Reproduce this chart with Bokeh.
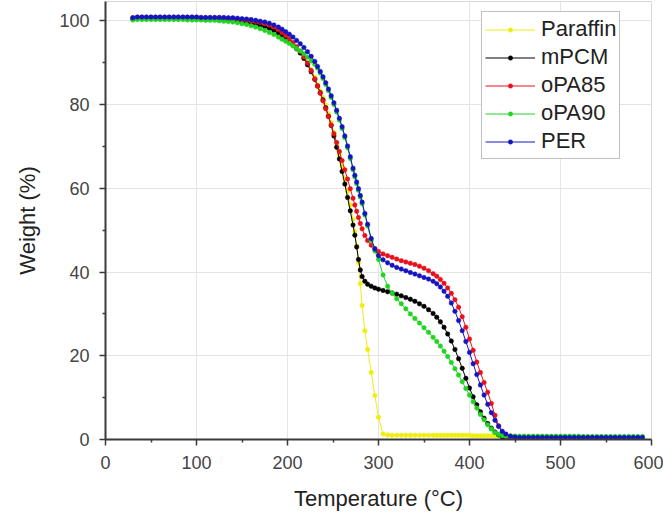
from bokeh.plotting import figure
from bokeh.models import Range1d, FixedTicker, Legend, LegendItem
from bokeh.embed import file_html
from bokeh.resources import INLINE

# ---------------- data ----------------
TEMP = [30, 35, 40, 45, 50, 55, 60, 65, 70, 75, 80, 85, 90, 95, 100, 105, 110, 115, 120, 125, 130, 135, 140, 145, 150, 155, 160, 165, 170, 175, 180,
        185, 190,
        194, 198, 202, 206, 210, 214, 218, 222, 226, 230,
        233, 236, 239, 242, 245, 248, 251, 254, 257, 260, 263, 266, 269, 272,
        274, 276, 278, 280, 282,
        285, 288,
        292, 296, 300,
        305, 310, 315, 320, 325, 330, 335, 340, 345, 350, 355, 360,
        364, 368, 372, 376, 380, 384, 388, 392, 396, 400, 404, 408, 412, 416, 420, 424, 428, 432, 436, 440,
        445, 450]

TEMP_TAIL = [455, 460, 465, 470, 475, 480, 485, 490, 495, 500, 505, 510, 515, 520, 525, 530, 535, 540, 545, 550,
             555, 560, 565, 570, 575, 580, 585, 590]

W_PARAFFIN = [100.4, 100.5, 100.5, 100.5, 100.5, 100.5, 100.5, 100.5, 100.5, 100.5, 100.5, 100.5, 100.4, 100.4, 100.4, 100.4, 100.3, 100.3, 100.3, 100.2, 100.2, 100.1, 100.0, 99.9, 99.8, 99.6, 99.4, 99.2, 98.9, 98.6, 98.3,
              97.8, 97.3,
              96.6, 95.9, 95.2, 94.4, 93.6, 92.6, 91.3, 89.9, 88.3, 86.5,
              84.8, 83.2, 81.6, 79.8, 77.8, 75.7, 73.3, 70.8, 68.0, 65.2, 62.3, 59.3, 56.0, 52.5,
              49.6, 46.2, 42.2, 37.2, 32.0,
              26.0, 21.5,
              16.0, 10.5, 5.3,
              1.3, 1.1, 1.0, 1.0, 1.0, 1.0, 1.0, 1.0, 1.0, 1.0, 1.0, 1.0,
              1.0, 1.0, 1.0, 1.0, 1.0, 1.0, 1.0, 1.0, 1.0, 1.0, 0.9, 0.9, 0.9, 0.9, 0.9, 0.9, 0.9, 0.9, 0.9, 0.9,
              0.9, 0.8]
W_PARAFFIN_TAIL = [0.7, 0.7, 0.7, 0.7, 0.7, 0.7, 0.7, 0.7, 0.7, 0.7, 0.6, 0.6, 0.6, 0.6, 0.6, 0.6, 0.6, 0.6, 0.6, 0.6,
                   0.5, 0.5, 0.5, 0.5, 0.5, 0.5, 0.5, 0.5]

W_MPCM = [100.4, 100.5, 100.5, 100.5, 100.5, 100.5, 100.5, 100.5, 100.5, 100.5, 100.5, 100.5, 100.4, 100.4, 100.4, 100.4, 100.3, 100.3, 100.3, 100.2, 100.2, 100.1, 100.0, 99.9, 99.8, 99.6, 99.4, 99.2, 98.9, 98.6, 98.2,
          97.7, 97.1,
          96.4, 95.7, 95.0, 94.2, 93.3, 92.3, 91.0, 89.5, 87.8, 86.0,
          84.4, 82.8, 81.1, 79.2, 77.2, 75.0, 72.5, 69.8, 67.0, 64.0, 61.0, 57.8, 54.6, 51.2,
          48.8, 46.0, 43.0, 40.5, 38.9,
          37.8, 37.1,
          36.6, 36.2, 35.9,
          35.6, 35.3, 35.0, 34.7, 34.3, 33.9, 33.5, 33.0, 32.4, 31.8, 31.0, 30.1,
          29.2, 28.1, 26.8, 25.2, 23.5, 21.5, 19.3, 17.0, 14.6, 12.3, 10.2, 8.3, 6.6, 5.1, 3.8, 2.7, 1.8, 1.1, 0.6, 0.3,
          0.15, 0.1]

W_OPA85 = [100.7, 100.8, 100.8, 100.8, 100.8, 100.8, 100.8, 100.8, 100.8, 100.8, 100.8, 100.8, 100.8, 100.8, 100.8, 100.7, 100.7, 100.7, 100.7, 100.7, 100.6, 100.6, 100.5, 100.4, 100.3, 100.2, 100.0, 99.8, 99.6, 99.3, 99.0,
           98.5, 97.9,
           97.2, 96.5, 95.7, 94.8, 93.8, 92.7, 91.4, 89.9, 88.1, 86.1,
           84.4, 82.7, 80.9, 79.0, 77.1, 75.1, 73.0, 70.9, 68.8, 66.6, 64.4, 62.2, 59.9, 57.6,
           56.0, 54.5, 53.0, 51.6, 50.3,
           48.7, 47.5,
           46.4, 45.6, 44.9,
           44.3, 43.9, 43.5, 43.1, 42.7, 42.4, 42.1, 41.8, 41.4, 40.9, 40.3, 39.6,
           39.0, 38.2, 37.3, 36.2, 34.9, 33.4, 31.6, 29.3, 26.8, 24.0, 21.3, 18.5, 16.0, 13.6, 11.3, 8.6, 5.8, 3.3, 1.6, 0.7,
           0.3, 0.2]

W_OPA90 = [100.2, 100.3, 100.3, 100.3, 100.3, 100.3, 100.3, 100.3, 100.3, 100.3, 100.3, 100.3, 100.2, 100.2, 100.2, 100.2, 100.1, 100.1, 100.1, 100.0, 99.9, 99.8, 99.7, 99.5, 99.3, 99.1, 98.8, 98.5, 98.1, 97.7, 97.2,
           96.7, 96.1,
           95.6, 95.1, 94.6, 94.0, 93.4, 92.8, 92.1, 91.3, 90.4, 89.6,
           88.7, 87.5, 86.2, 84.8, 83.3, 81.7, 80.0, 78.2, 76.3, 74.3, 72.1, 69.7, 67.1, 64.4,
           62.7, 61.1, 59.5, 57.9, 56.3,
           53.6, 51.0,
           47.6, 45.0, 43.0,
           39.3, 36.6, 34.9, 33.6, 32.4, 31.2, 30.0, 28.9, 27.8, 26.7, 25.6, 24.4,
           23.4, 22.3, 21.1, 19.8, 18.4, 16.9, 15.4, 13.8, 12.2, 10.6, 9.0, 7.5, 6.0, 4.7, 3.5, 2.5, 1.7, 1.2, 0.9, 0.8,
           0.8, 0.8]
W_OPA90_TAIL = [0.8, 0.8, 0.8, 0.8, 0.8, 0.8, 0.8, 0.8, 0.8, 0.8, 0.8, 0.8, 0.8, 0.8,
                0.7, 0.7, 0.7, 0.7, 0.7, 0.7, 0.7, 0.7, 0.7, 0.7, 0.7, 0.7, 0.7, 0.7]

W_PER = [100.7, 100.9, 100.9, 100.9, 100.9, 100.9, 100.9, 100.9, 100.9, 100.9, 100.9, 100.9, 100.9, 100.9, 100.9, 100.8, 100.8, 100.8, 100.8, 100.8, 100.8, 100.7, 100.7, 100.6, 100.5, 100.4, 100.3, 100.1, 99.9, 99.7, 99.4,
         99.0, 98.5,
         98.0, 97.4, 96.8, 96.1, 95.3, 94.5, 93.6, 92.6, 91.5, 90.3,
         89.1, 87.9, 86.6, 85.2, 83.7, 82.1, 80.4, 78.6, 76.7, 74.7, 72.5, 70.1, 67.5, 64.8,
         63.1, 61.5, 59.9, 58.3, 56.7,
         54.0, 51.4,
         48.0, 45.5, 43.9,
         42.9, 42.2, 41.6, 41.1, 40.7, 40.3, 39.9, 39.5, 39.1, 38.7, 38.3, 37.8,
         37.2, 36.4, 35.4, 34.2, 32.6, 30.6, 28.4, 26.0, 23.4, 20.8, 18.1, 15.5, 13.0, 10.6, 8.4, 6.4, 4.6, 3.1, 2.0, 1.3,
         0.8, 0.6]
W_PER_TAIL = [0.5, 0.5, 0.5, 0.5, 0.5, 0.5, 0.5, 0.5, 0.5, 0.5, 0.5, 0.5, 0.5, 0.5,
              0.5, 0.5, 0.5, 0.5, 0.5, 0.5, 0.5, 0.5, 0.5, 0.5, 0.5, 0.5, 0.5, 0.5]

X_TICKS = [0, 100, 200, 300, 400, 500, 600]
X_MINOR = [50, 150, 250, 350, 450, 550]
Y_TICKS = [0, 20, 40, 60, 80, 100]
Y_MINOR = [10, 30, 50, 70, 90]

SERIES = [
    ("Paraffin", TEMP + TEMP_TAIL, W_PARAFFIN + W_PARAFFIN_TAIL, "#eeee10"),
    ("mPCM", TEMP, W_MPCM, "#000000"),
    ("oPA85", TEMP, W_OPA85, "#e8101a"),
    ("oPA90", TEMP + TEMP_TAIL, W_OPA90 + W_OPA90_TAIL, "#22d422"),
    ("PER", TEMP + TEMP_TAIL, W_PER + W_PER_TAIL, "#1414c0"),
]

# ---------------- figure ----------------
FONT = "Liberation Sans"
p = figure(width=663, height=519, output_backend="svg", toolbar_location=None,
           x_range=Range1d(0, 600), y_range=Range1d(0, 104.6),
           min_border_left=105, min_border_right=12, min_border_top=1, min_border_bottom=80)
p.background_fill_color = "white"
p.border_fill_color = "white"
p.outline_line_color = "#d8d8d8"
p.outline_line_width = 1

p.xaxis.ticker = FixedTicker(ticks=X_TICKS, minor_ticks=X_MINOR)
p.yaxis.ticker = FixedTicker(ticks=Y_TICKS, minor_ticks=Y_MINOR)
p.xgrid.ticker = FixedTicker(ticks=X_TICKS)
p.ygrid.ticker = FixedTicker(ticks=Y_TICKS)
p.grid.grid_line_color = "#e4e4e4"
p.grid.grid_line_width = 1

for ax in (p.xaxis, p.yaxis):
    ax.axis_line_color = "#3a3a3a"
    ax.axis_line_width = 2
    ax.major_tick_line_color = "#3a3a3a"
    ax.minor_tick_line_color = "#3a3a3a"
    ax.major_tick_line_width = 1.5
    ax.minor_tick_line_width = 1.5
    ax.major_tick_in = 0
    ax.major_tick_out = 6
    ax.minor_tick_in = 0
    ax.minor_tick_out = 3
    ax.major_label_text_font = FONT
    ax.major_label_text_font_size = "18px"
    ax.major_label_text_color = "#444444"
    ax.axis_label_text_font = FONT
    ax.axis_label_text_font_size = "22px"
    ax.axis_label_text_font_style = "normal"
    ax.axis_label_text_color = "#222222"

p.xaxis.axis_label = "Temperature (°C)"
p.yaxis.axis_label = "Weight (%)"
p.xaxis.major_label_standoff = 10
p.yaxis.major_label_standoff = 10
p.xaxis.axis_label_standoff = 14
p.yaxis.axis_label_standoff = 16

items = []
for name, xs, ys, color in SERIES:
    ln = p.line(xs, ys, line_color=color, line_width=1)
    sc = p.scatter(xs, ys, size=4.5, fill_color=color, line_color=color, line_width=0.5, marker="circle")
    items.append(LegendItem(label=name, renderers=[ln, sc]))

legend = Legend(items=items, location=(376, 280))
legend.label_text_font = FONT
legend.label_text_font_size = "22px"
legend.label_text_color = "#222222"
legend.glyph_width = 50
legend.glyph_height = 11
legend.label_height = 28
legend.label_standoff = 6
legend.spacing = 0
legend.padding = 3
legend.margin = 0
legend.border_line_color = "#808080"
legend.border_line_width = 1
legend.background_fill_color = "white"
legend.background_fill_alpha = 1
p.add_layout(legend)

open("out.html", "w").write(file_html(p, INLINE))
